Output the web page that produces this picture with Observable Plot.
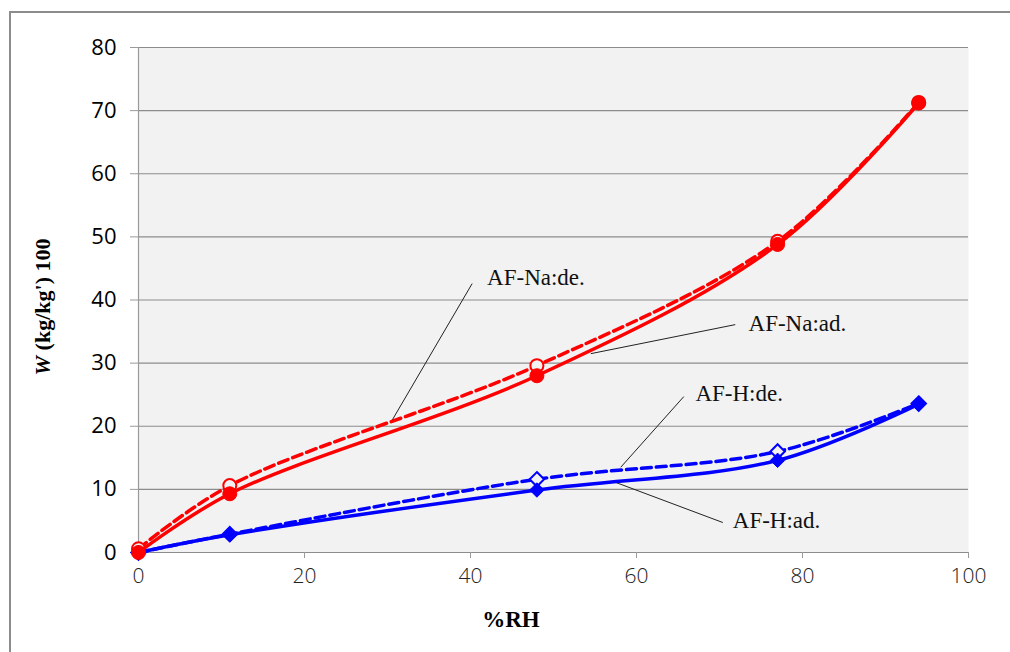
<!DOCTYPE html>
<html>
<head>
<meta charset="utf-8">
<script src="https://cdn.jsdelivr.net/npm/d3@7"></script>
<script src="https://cdn.jsdelivr.net/npm/@observablehq/plot@0.6"></script>
<style>
  html, body { margin: 0; padding: 0; background: #fff; }
  #wrap { position: relative; width: 1010px; height: 652px; overflow: hidden; }
  #border { position: absolute; left: 9px; top: 11px; width: 1100px; height: 800px; border: 2px solid #8c8c8c; box-sizing: border-box; }
  #chart { position: absolute; left: 0; top: 0; }
</style>
</head>
<body>
<div id="wrap"><div id="border"></div><div id="chart"></div></div>
<script>
// ---- data ----
const rh    = [0, 11, 48, 77, 94];
const naAd  = [0, 9.3, 28.0, 48.8, 71.2];
const naDe  = [0.6, 10.6, 29.6, 49.3, 71.3];
const hAd   = [0, 2.8, 9.9, 14.6, 23.5];
const hDe   = [0, 2.9, 11.6, 16.0, 23.6];

const xTicks = [0, 20, 40, 60, 80, 100];
const yTicks = [0, 10, 20, 30, 40, 50, 60, 70, 80];

// annotation labels (data coordinates)
const annLabels = ["AF-Na:de.", "AF-Na:ad.", "AF-H:de.", "AF-H:ad."];
const annTextX  = [42.0, 73.5, 67.1, 71.6];
const annTextY  = [43.6, 36.3, 25.2, 5.1];
const annX1     = [40.2, 71.9, 65.7, 70.4];
const annY1     = [42.6, 36.1, 24.7, 4.75];
const annX2     = [30.4, 54.5, 58.1, 57.5];
const annY2     = [20.6, 31.5, 13.5, 11.1];

const mk = (ys) => rh.map((x, i) => ({x, y: ys[i]}));
const sNaAd = mk(naAd), sNaDe = mk(naDe), sHAd = mk(hAd), sHDe = mk(hDe);
const ann = annLabels.map((t, i) => ({t, tx: annTextX[i], ty: annTextY[i], x1: annX1[i], y1: annY1[i], x2: annX2[i], y2: annY2[i]}));

const RED = "#ff0000", BLUE = "#0000ff";

const chart = Plot.plot({
  width: 1010,
  height: 652,
  marginLeft: 138,
  marginRight: 42,
  marginTop: 47,
  marginBottom: 100,
  x: {domain: [0, 100]},
  y: {domain: [0, 80]},
  style: {background: "transparent", overflow: "visible"},
  marks: [
    Plot.frame({fill: "#f2f2f2", stroke: null}),
    Plot.gridY(yTicks, {stroke: "#8c8c8c", strokeOpacity: 1, strokeWidth: 1.2}),
    Plot.ruleX([0], {stroke: "#9a9a9a", strokeWidth: 1.2}),
    Plot.axisY(yTicks, {tickSize: 8, tickPadding: 14, stroke: "#9a9a9a", label: null,
      fontSize: 22, fontFamily: "Open Sans", fill: "#000"}),
    Plot.axisX(xTicks, {tickSize: 6, tickPadding: 10, stroke: "#9a9a9a", label: null,
      fontSize: 21, fontFamily: "Open Sans", fontWeight: 300, fill: "#222"}),
    // leader lines
    Plot.link(ann, {x1: "x1", y1: "y1", x2: "x2", y2: "y2", stroke: "#222", strokeWidth: 1}),
    Plot.text(ann, {x: "tx", y: "ty", text: "t", textAnchor: "start", fontSize: 23,
      fontFamily: "Liberation Serif", fill: "#111"}),
    // dashed desorption curves
    Plot.line(sHDe, {x: "x", y: "y", curve: "catmull-rom", stroke: BLUE, strokeWidth: 3.5, strokeDasharray: "10,5"}),
    Plot.line(sNaDe, {x: "x", y: "y", curve: "catmull-rom", stroke: RED, strokeWidth: 3.5, strokeDasharray: "10,5"}),
    Plot.dot(sHDe, {x: "x", y: "y", symbol: "diamond2", r: 6.5, stroke: BLUE, strokeWidth: 2, fill: "#f2f2f2"}),
    Plot.dot(sNaDe, {x: "x", y: "y", symbol: "circle", r: 6.5, stroke: RED, strokeWidth: 2, fill: "#f2f2f2"}),
    // solid adsorption curves
    Plot.line(sHAd, {x: "x", y: "y", curve: "catmull-rom", stroke: BLUE, strokeWidth: 3.5}),
    Plot.line(sNaAd, {x: "x", y: "y", curve: "catmull-rom", stroke: RED, strokeWidth: 3.5}),
    Plot.dot(sHAd, {x: "x", y: "y", symbol: "diamond2", r: 6.5, fill: BLUE, stroke: BLUE, strokeWidth: 1}),
    Plot.dot(sNaAd, {x: "x", y: "y", symbol: "circle", r: 7, fill: RED, stroke: RED, strokeWidth: 1})
  ]
});

const svg = d3.select(chart);
// y axis title
const yt = svg.append("text")
  .attr("transform", "translate(45,307) rotate(-90)")
  .attr("text-anchor", "middle")
  .attr("dominant-baseline", "middle")
  .style("font-family", "Liberation Serif")
  .style("font-size", "22px")
  .style("font-weight", "bold")
  .style("fill", "#000");
yt.append("tspan").style("font-style", "italic").text("W");
yt.append("tspan").text(" (kg/kg') 100");
// x axis title
svg.append("text")
  .attr("x", 511).attr("y", 622)
  .attr("text-anchor", "middle")
  .attr("dominant-baseline", "middle")
  .style("font-family", "Liberation Serif")
  .style("font-size", "23px")
  .style("font-weight", "bold")
  .style("fill", "#000")
  .text("%RH");

document.getElementById("chart").appendChild(chart);
</script>
</body>
</html>
